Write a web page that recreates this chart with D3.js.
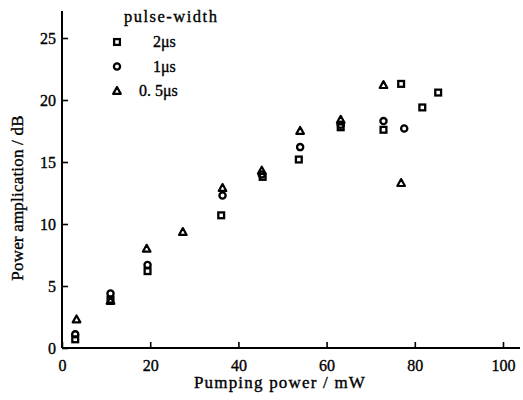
<!DOCTYPE html>
<html>
<head>
<meta charset="utf-8">
<script src="https://cdn.jsdelivr.net/npm/d3@7"></script>
<style>
  body { margin: 0; background: #fff; }
  svg text { font-family: "Liberation Serif", "DejaVu Serif", serif; fill: #000; stroke: #000; stroke-width: 0.35px; }
</style>
</head>
<body>
<svg id="chart" width="523" height="400"></svg>
<script>
// values: pumping power (mW) and gain (dB)
const pw2Power = [3, 11, 19.4, 36.1, 45.5, 53.7, 63.2, 72.9, 76.9, 81.7, 85.3]
const pw2Gain  = [0.7, 3.9, 6.2, 10.7, 13.8, 15.2, 17.8, 17.6, 21.3, 19.4, 20.6]

const pw1Power = [3, 11, 19.4, 36.4, 45.3, 54, 63.2, 72.9, 77.6]
const pw1Gain  = [1.1, 4.4, 6.7, 12.3, 14.0, 16.2, 18.0, 18.3, 17.7]

const pw05Power = [3.3, 11, 19.2, 27.4, 36.4, 45.3, 54, 63.2, 72.9, 76.9]
const pw05Gain  = [2.3, 3.8, 8.0, 9.35, 12.9, 14.3, 17.5, 18.4, 21.2, 13.3]

const xTicks = [0, 20, 40, 60, 80, 100]
const yTicks = [0, 5, 10, 15, 20, 25]
const legendLabels = ["2\u03bcs", "1\u03bcs", "0. 5\u03bcs"]

const svg = d3.select("#chart")

const x = d3.scaleLinear().domain([0, 100]).range([62, 503])
const y = d3.scaleLinear().domain([0, 25]).range([348, 38])

const series = [
  { shape: "square", xs: pw2Power, ys: pw2Gain },
  { shape: "circle", xs: pw1Power, ys: pw1Gain },
  { shape: "triangle", xs: pw05Power, ys: pw05Gain }
]

// draw a marker of the given shape centred at (cx, cy)
const drawMarker = (g, shape, cx, cy) => {
  if (shape === "square") {
    g.append("rect")
      .attr("x", cx - 2.9).attr("y", cy - 2.9)
      .attr("width", 5.8).attr("height", 5.8)
      .attr("fill", "none").attr("stroke", "#000").attr("stroke-width", 2.3)
  } else if (shape === "circle") {
    g.append("circle")
      .attr("cx", cx).attr("cy", cy).attr("r", 3.1)
      .attr("fill", "none").attr("stroke", "#000").attr("stroke-width", 2.3)
  } else {
    g.append("path")
      .attr("d", `M${cx},${cy - 4}L${cx + 3.8},${cy + 2.9}L${cx - 3.8},${cy + 2.9}Z`)
      .attr("fill", "none").attr("stroke", "#000").attr("stroke-width", 2.2)
      .attr("stroke-linejoin", "round")
  }
}

// axes
const xAxis = svg.append("g")
  .attr("transform", `translate(0, ${y(0)})`)
  .call(d3.axisBottom(x).tickValues(xTicks).tickSizeInner(-6).tickSizeOuter(0).tickPadding(12))
xAxis.select(".domain").attr("d", `M${x(0)},0H520`).attr("stroke-width", 2)

const yAxis = svg.append("g")
  .attr("transform", `translate(${x(0)}, 0)`)
  .call(d3.axisLeft(y).tickValues(yTicks).tickSizeInner(-6).tickSizeOuter(0).tickPadding(10))
yAxis.select(".domain").attr("d", `M0,${y(0)}V11`).attr("stroke-width", 2)

svg.selectAll(".tick line").attr("stroke-width", 1.6)
svg.selectAll(".tick text")
  .style("font-size", "16px")
  .style("font-family", "Liberation Serif, serif")
yAxis.selectAll(".tick text").attr("dx", "4")

// axis titles
svg.append("text")
  .attr("x", 280).attr("y", 388)
  .attr("text-anchor", "middle")
  .style("font-size", "17px").style("letter-spacing", "1.2px")
  .text("Pumping power / mW")

svg.append("text")
  .attr("transform", "translate(23, 198) rotate(-90)")
  .attr("text-anchor", "middle")
  .style("font-size", "17px").style("letter-spacing", "0.2px")
  .text("Power amplication / dB")

// data markers
const plot = svg.append("g")
series.forEach(s => {
  s.xs.forEach((v, i) => drawMarker(plot, s.shape, x(v), y(s.ys[i])))
})

// legend
const legend = svg.append("g")
legend.append("text")
  .attr("x", 124).attr("y", 22)
  .style("font-size", "16.5px").style("letter-spacing", "1.5px")
  .text("pulse-width")

series.forEach((s, i) => {
  const ly = 42 + i * 24.5
  drawMarker(legend, s.shape, 117, ly)
  legend.append("text")
    .attr("x", i === 2 ? 139 : 153).attr("y", ly + 5)
    .style("font-size", "16px")
    .text(legendLabels[i])
})
</script>
</body>
</html>
